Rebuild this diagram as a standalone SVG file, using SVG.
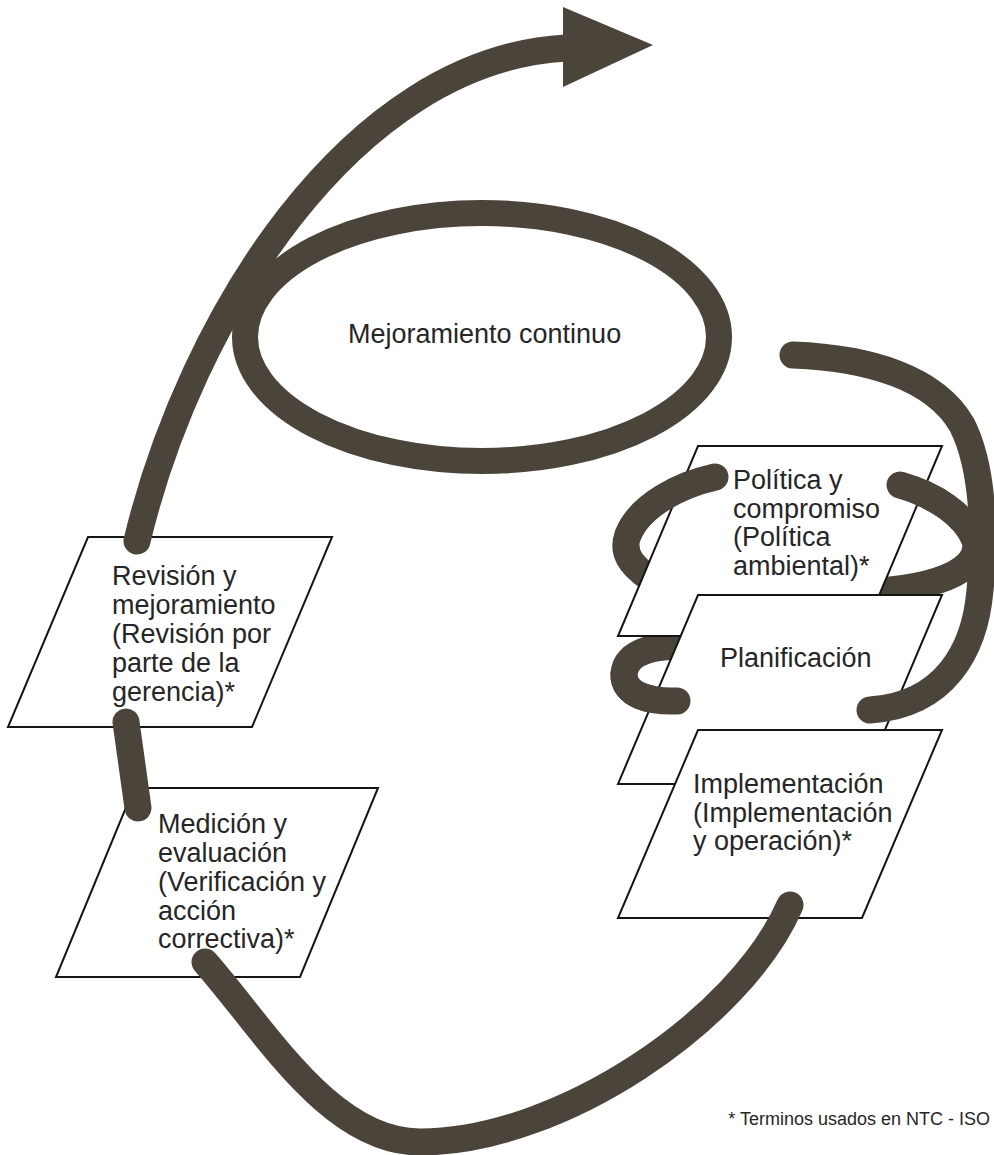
<svg xmlns="http://www.w3.org/2000/svg" width="994" height="1155" viewBox="0 0 994 1155">
<style>
.band{fill:none;stroke:#4b443b;stroke-width:27;stroke-linecap:round;stroke-linejoin:round}
.box{fill:#fff;stroke:#151515;stroke-width:2}
.t{font-family:"Liberation Sans",Arial,sans-serif;font-size:27px;fill:#262626}
.fn{font-family:"Liberation Sans",Arial,sans-serif;font-size:18px;fill:#262626}
</style>
<rect width="994" height="1155" fill="#fff"/>
<g id="mejoramiento">
<ellipse cx="482" cy="337" rx="237" ry="124" fill="none" stroke="#4b443b" stroke-width="26"/>
<text class="t" x="348" y="343">Mejoramiento continuo</text>
</g>
<g id="connectors-back">
<path class="band" d="M715,477 C680,485 640,505 628,535 C620,555 635,570 660,585"/>
<path class="band" d="M900,485 C935,495 965,515 975,540 C982,565 950,588 862,592"/>
<path class="band" d="M695,648 C655,643 625,652 624,674 C623,695 650,702 677,701"/>
</g>
<g id="revision">
<polygon class="box" points="88,537 332,537 252,727 8,727"/>
<text class="t" x="112" y="585">Revisión y</text>
<text class="t" x="112" y="614">mejoramiento</text>
<text class="t" x="112" y="643">(Revisión por</text>
<text class="t" x="112" y="672">parte de la</text>
<text class="t" x="112" y="701">gerencia)*</text>
</g>
<g id="medicion">
<polygon class="box" points="134,788 378,788 300,977 56,977"/>
<text class="t" x="158" y="833">Medición y</text>
<text class="t" x="158" y="862">evaluación</text>
<text class="t" x="158" y="891">(Verificación y</text>
<text class="t" x="158" y="920">acción</text>
<text class="t" x="158" y="948">correctiva)*</text>
</g>
<g id="politica">
<polygon class="box" points="698,446 942,446 862,636 618,636"/>
<text class="t" x="733" y="489">Política y</text>
<text class="t" x="733" y="518">compromiso</text>
<text class="t" x="733" y="546">(Política</text>
<text class="t" x="733" y="575">ambiental)*</text>
</g>
<g id="planificacion">
<polygon class="box" points="698,595 942,595 862,784 618,784"/>
<text class="t" x="720" y="667">Planificación</text>
</g>
<g id="implementacion">
<polygon class="box" points="698,730 942,730 862,918 618,918"/>
<text class="t" x="693" y="793">Implementación</text>
<text class="t" x="693" y="822">(Implementación</text>
<text class="t" x="693" y="850">y operación)*</text>
</g>
<g id="connectors">
<path class="band" d="M715,477 C680,485 640,505 628,535"/>
<path class="band" d="M900,485 C935,495 965,515 975,540"/>
<path class="band" d="M624,674 C623,695 650,702 677,701"/>
<path class="band" d="M793,355 C870,358 935,378 962,425 C985,470 985,545 980,590 C975,650 945,705 870,710"/>
<path class="band" d="M137,541 C190,320 350,60 566,48"/>
<polygon points="563,7 653,45 563,87" fill="#4b443b"/>
<path class="band" d="M126,722 Q132,765 138,808"/>
<path class="band" d="M205,962 C265,1030 330,1142 420,1142 C560,1142 740,1020 790,905"/>
</g>
<text class="fn" x="990" y="1125" text-anchor="end">* Terminos usados en NTC - ISO</text>
</svg>
